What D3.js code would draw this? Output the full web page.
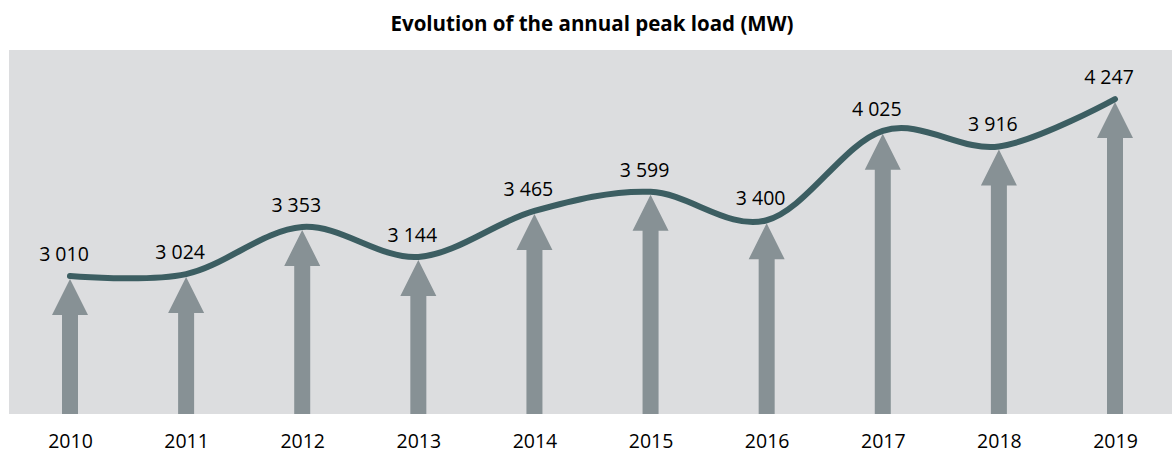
<!DOCTYPE html>
<html>
<head>
<meta charset="utf-8">
<script src="https://cdn.jsdelivr.net/npm/d3@7/dist/d3.min.js"></script>
<style>
	body { margin: 0; background: #fff; }
	text { font-family: "Open Sans", "Liberation Sans", sans-serif; fill: #000; }
</style>
</head>
<body>
<div id="chart"></div>
<script>
/*Data*/
const years = ['2010', '2011', '2012', '2013', '2014', '2015', '2016', '2017', '2018', '2019'];
const peakLoad = [3010, 3024, 3353, 3144, 3465, 3599, 3400, 4025, 3916, 4247];
const valueLabels = ['3 010', '3 024', '3 353', '3 144', '3 465', '3 599', '3 400', '4 025', '3 916', '4 247'];
const title = 'Evolution of the annual peak load (MW)';
/////////////////////////////////////////////////////////////////////////////

//STYLING
const width = 1172, height = 453;
const plot = { x: 9, y: 50, right: 1172, bottom: 414, color: '#dcdddf' };
const arrowColor = '#879195';
const lineColor = '#3c5e62';

const svg = d3.select('#chart').append('svg')
	.attr('width', width)
	.attr('height', height);

svg.append('rect')
	.attr('x', plot.x)
	.attr('y', plot.y)
	.attr('width', plot.right - plot.x)
	.attr('height', plot.bottom - plot.y)
	.style('fill', plot.color);

svg.append('text')
	.attr('x', 592)
	.attr('y', 31)
	.attr('text-anchor', 'middle')
	.style('font-size', '20.5px')
	.style('font-weight', 'bold')
	.text(title);

const x = d3.scalePoint()
	.domain(years)
	.range([70, 1115]);

// axis is not zero based, fitted so the points sit where they do in the picture
const y = d3.scaleLinear()
	.domain([2046, 4590])
	.range([plot.bottom, plot.y]);

const data = years.map((yr, i) => ({ year: yr, value: peakLoad[i], label: valueLabels[i] }));

//arrows from the bottom of the plot up to each value
const shaftW = 16, headW = 36, headH = 36;
const arrow = d => {
	const cx = x(d.year), tip = y(d.value) + 3, base = tip + headH;
	return `M${cx - shaftW / 2},${plot.bottom} L${cx - shaftW / 2},${base} L${cx - headW / 2},${base}
		L${cx},${tip} L${cx + headW / 2},${base} L${cx + shaftW / 2},${base} L${cx + shaftW / 2},${plot.bottom} Z`;
};

svg.append('g').selectAll('path')
	.data(data)
	.join('path')
	.attr('d', arrow)
	.style('fill', arrowColor);

//smoothed line
const line = d3.line()
	.x(d => x(d.year))
	.y(d => y(d.value))
	.curve(d3.curveCardinal.tension(0));

svg.append('path')
	.datum(data)
	.attr('d', line)
	.style('fill', 'none')
	.style('stroke', lineColor)
	.style('stroke-width', 6)
	.style('stroke-linecap', 'round');

//value labels
svg.append('g').selectAll('text')
	.data(data)
	.join('text')
	.attr('x', d => x(d.year) - 6)
	.attr('y', d => y(d.value) - 15)
	.attr('text-anchor', 'middle')
	.style('font-size', '19.5px')
	.text(d => d.label);

//x axis labels
const xAxis = svg.append('g')
	.attr('transform', `translate(0,${plot.bottom})`)
	.call(d3.axisBottom(x).tickSize(0).tickPadding(0));
xAxis.select('.domain').remove();
xAxis.selectAll('text')
	.attr('dy', null)
	.attr('y', 34)
	.style('font-size', '19.5px');
</script>
</body>
</html>
